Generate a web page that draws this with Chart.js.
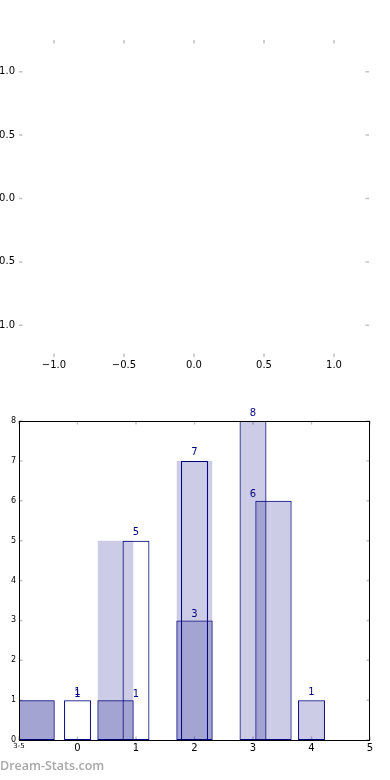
<!DOCTYPE html>
<html>
<head>
<meta charset="utf-8">
<script src="https://cdn.jsdelivr.net/npm/chart.js@4"></script>
<style>
  html, body { margin: 0; padding: 0; background: #fff; }
  body { width: 390px; height: 780px; position: relative; overflow: hidden; }
  #top-wrap { position: absolute; left: 0; top: 0; width: 390px; height: 380px; }
  #bottom-wrap { position: absolute; left: 0; top: 380px; width: 390px; height: 400px; }
  .watermark { position: absolute; left: 0; top: 758px; font: 600 12.5px "Open Sans", sans-serif; color: #a8a8a8; line-height: 16px; }
</style>
</head>
<body>
<div id="top-wrap"><canvas id="empty-axes" width="390" height="380"></canvas></div>
<div id="bottom-wrap"><canvas id="counts-chart" width="390" height="400"></canvas></div>
<div class="watermark">Dream-Stats.com</div>
<script>
// top panel: an empty set of axes
const unitTicks = [-1.0, -0.5, 0.0, 0.5, 1.0];
const unitMin = -1.25;
const unitMax = 1.25;

// bottom panel: counts
const categories = [0, 1, 2, 3, 4];
const countsA = [1, 5, 7, 8, 1];
const shiftedPositions = [-0.7, 0.65, 2.0, 3.35];
const countsB = [1, 1, 3, 6];
const countsShade = [1, 5, 7];
const xTickValues = [-1, 0, 1, 2, 3, 4, 5];
const xTickLabels = ['3-5', '0', '1', '2', '3', '4', '5'];
const yTickValues = [0, 1, 2, 3, 4, 5, 6, 7, 8];

const NAVY = '#000080';
const SHADE = 'rgba(0, 0, 128, 0.2)';
const FONT = 'DejaVu Sans';

// small grey tick marks pointing into the plot, matplotlib style
const innerTicks = {
  id: 'innerTicks',
  beforeDatasetsDraw(chart) {
    const { ctx, chartArea: a } = chart;
    const xs = chart.scales.x, ys = chart.scales.y;
    const len = 3.5;
    ctx.save();
    ctx.strokeStyle = '#c2c2c2';
    ctx.lineWidth = 1.5;
    ctx.beginPath();
    xs.ticks.forEach(t => {
      const px = xs.getPixelForValue(t.value);
      ctx.moveTo(px, a.top); ctx.lineTo(px, a.top + len);
      ctx.moveTo(px, a.bottom); ctx.lineTo(px, a.bottom - len);
    });
    ys.ticks.forEach(t => {
      const py = ys.getPixelForValue(t.value);
      ctx.moveTo(a.left, py); ctx.lineTo(a.left + len, py);
      ctx.moveTo(a.right, py); ctx.lineTo(a.right - len, py);
    });
    ctx.stroke();
    ctx.restore();
  }
};

const frame = {
  id: 'frame',
  afterDatasetsDraw(chart) {
    const { ctx, chartArea: a } = chart;
    ctx.save();
    ctx.strokeStyle = '#000';
    ctx.lineWidth = 1;
    ctx.strokeRect(a.left + 0.5, a.top + 0.5, a.right - a.left - 1, a.bottom - a.top);
    ctx.restore();
  }
};

// count labels above the bars (placed at the category, not at the bar)
const barLabels = {
  id: 'barLabels',
  afterDatasetsDraw(chart) {
    const { ctx } = chart;
    const xs = chart.scales.x, ys = chart.scales.y;
    const groups = [
      { pos: categories, vals: countsA, lift: 5.5 },
      { pos: categories.slice(0, countsB.length), vals: countsB, lift: 3.5 }
    ];
    ctx.save();
    ctx.fillStyle = NAVY;
    ctx.font = '10px "' + FONT + '"';
    ctx.textAlign = 'center';
    ctx.textBaseline = 'alphabetic';
    groups.forEach(g => {
      g.vals.forEach((v, i) => {
        ctx.fillText(String(v), xs.getPixelForValue(g.pos[i]), ys.getPixelForValue(v) - g.lift);
      });
    });
    ctx.restore();
  }
};

const signed = v => (v < 0 ? '\u2212' : '') + Math.abs(v).toFixed(1);

new Chart(document.getElementById('empty-axes'), {
  type: 'scatter',
  data: { datasets: [] },
  options: {
    responsive: false,
    animation: false,
    devicePixelRatio: 1,
    layout: { padding: { top: 40, right: 21, left: 0, bottom: 0 } },
    plugins: { legend: { display: false }, tooltip: { enabled: false } },
    scales: {
      x: {
        type: 'linear', min: unitMin, max: unitMax,
        afterBuildTicks: s => { s.ticks = unitTicks.map(v => ({ value: v })); },
        afterFit: s => { s.height = 23; },
        grid: { display: false, drawTicks: false },
        border: { display: false },
        ticks: { padding: 2, color: '#000', font: { family: FONT, size: 10 }, callback: signed, maxRotation: 0 }
      },
      y: {
        type: 'linear', min: unitMin, max: unitMax,
        afterBuildTicks: s => { s.ticks = unitTicks.map(v => ({ value: v })); },
        afterFit: s => { s.width = 19; },
        grid: { display: false, drawTicks: false },
        border: { display: false },
        ticks: { padding: 4, color: '#000', font: { family: FONT, size: 10 }, callback: signed }
      }
    }
  },
  plugins: [innerTicks]
});

new Chart(document.getElementById('counts-chart'), {
  type: 'bar',
  data: {
    datasets: [
      {
        data: categories.map((x, i) => ({ x, y: countsA[i] })),
        xAxisID: 'x',
        order: 1,
        grouped: false,
        backgroundColor: c => (c.dataIndex >= 3 ? SHADE : 'rgba(0,0,0,0)'),
        borderColor: NAVY,
        borderWidth: 1,
        borderSkipped: false,
        categoryPercentage: 1,
        barPercentage: 0.46
      },
      {
        data: shiftedPositions.map((x, i) => ({ x, y: countsB[i] })),
        xAxisID: 'x2',
        order: 2,
        grouped: false,
        backgroundColor: SHADE,
        borderColor: NAVY,
        borderWidth: 1,
        borderSkipped: false,
        categoryPercentage: 1,
        barPercentage: 0.46
      },
      {
        data: countsShade.map((y, i) => ({ x: shiftedPositions[i], y })),
        xAxisID: 'x2',
        order: 3,
        grouped: false,
        backgroundColor: SHADE,
        borderWidth: 0,
        categoryPercentage: 1,
        barPercentage: 0.45
      }
    ]
  },
  options: {
    responsive: false,
    animation: false,
    devicePixelRatio: 1,
    layout: { padding: { top: 41, right: 20, left: 0, bottom: 0 } },
    plugins: { legend: { display: false }, tooltip: { enabled: false } },
    scales: {
      x: {
        type: 'linear', min: -1, max: 5, offset: false,
        afterBuildTicks: s => { s.ticks = xTickValues.map(v => ({ value: v })); },
        afterFit: s => { s.height = 40; },
        grid: { display: false, drawTicks: false, offset: false },
        border: { display: false },
        ticks: {
          padding: 2, color: '#000', maxRotation: 0, autoSkip: false,
          font: c => ({ family: FONT, size: c.tick && c.tick.value === -1 ? 7 : 10 }),
          callback: v => xTickLabels[xTickValues.indexOf(v)]
        }
      },
      x2: {
        type: 'linear', min: -1, max: 5, offset: false, display: false,
        grid: { offset: false },
        ticks: { stepSize: 2 },
        afterFit: s => { s.height = 0; }
      },
      y: {
        type: 'linear', min: 0, max: 8,
        afterBuildTicks: s => { s.ticks = yTickValues.map(v => ({ value: v })); },
        afterFit: s => { s.width = 19; },
        grid: { display: false, drawTicks: false },
        border: { display: false },
        ticks: { padding: 3, color: '#000', font: { family: FONT, size: 8 } }
      }
    }
  },
  plugins: [innerTicks, frame, barLabels]
});
</script>
</body>
</html>
